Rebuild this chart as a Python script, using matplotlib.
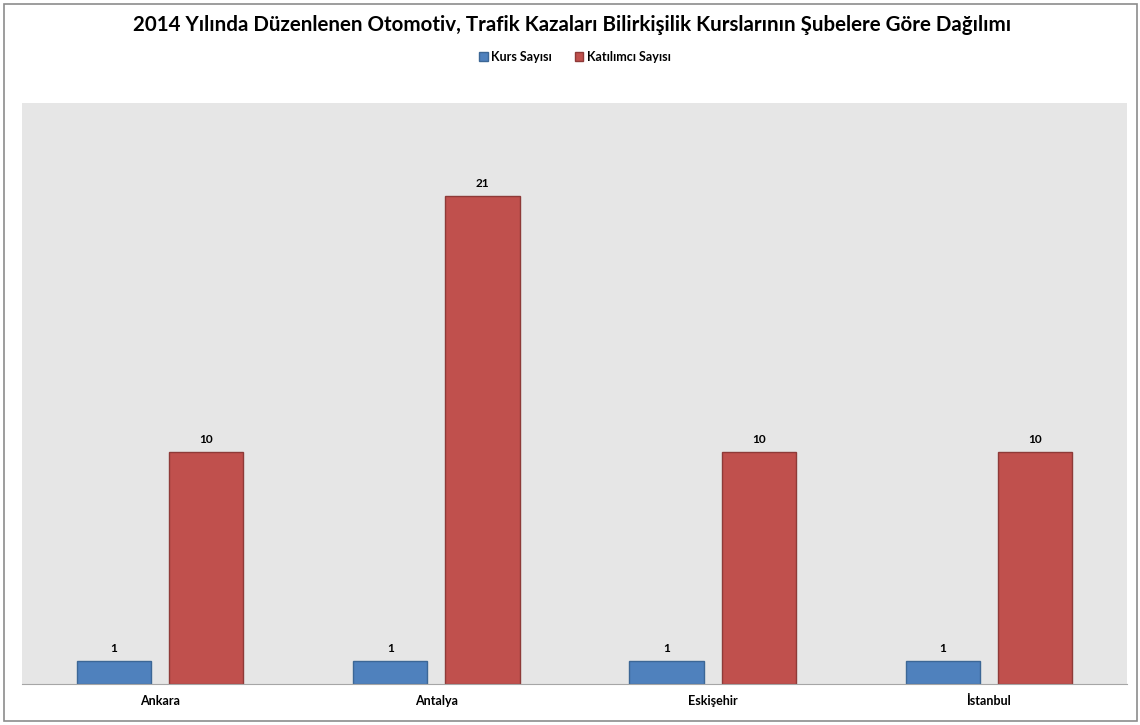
import numpy as np
import matplotlib.pyplot as plt
from matplotlib.patches import Rectangle

# veriler
subeler = ["Ankara", "Antalya", "Eskişehir", "İstanbul"]
kurs_sayisi = [1, 1, 1, 1]
katilimci_sayisi = [10, 21, 10, 10]

baslik = "2014 Yılında Düzenlenen Otomotiv, Trafik Kazaları Bilirkişilik Kurslarının Şubelere Göre Dağılımı"

plt.rcParams['font.family'] = ['Lato', 'DejaVu Sans']

fig = plt.figure(figsize=(11.4, 7.25), dpi=100)
W, H = 1140, 725

# dis cerceve
fig.patches.append(Rectangle((4 / W, 4 / H), 1133 / W, 717 / H, transform=fig.transFigure,
                             fill=False, edgecolor="#8c8c8c", linewidth=1.2))

ax = fig.add_axes([22 / W, (H - 684) / H, (1127 - 22) / W, (684 - 103) / H])
ax.set_facecolor("#e6e6e6")

x = np.arange(len(subeler))
w = 0.268
off = 0.167
b1 = ax.bar(x - off, kurs_sayisi, w, color="#4f81bd", edgecolor="#3c6796", linewidth=1, label="Kurs Sayısı")
b2 = ax.bar(x + off, katilimci_sayisi, w, color="#c0504d", edgecolor="#8e3a38", linewidth=1, label="Katılımcı Sayısı")

for bars in (b1, b2):
    for b in bars:
        ax.annotate(str(int(b.get_height())), (b.get_x() + b.get_width() / 2, b.get_height()),
                    xytext=(0, 5), textcoords="offset points", ha="center", va="bottom",
                    fontsize=8.5, fontweight="bold")

ax.set_xlim(-0.5, len(subeler) - 0.5)
ax.set_ylim(0, 25)
ax.set_yticks([])
ax.set_xticks(x)
ax.set_xticklabels(subeler, fontsize=9, fontweight="bold")
ax.tick_params(axis="x", length=0, pad=8)
for s in ["top", "right", "left"]:
    ax.spines[s].set_visible(False)
ax.spines["bottom"].set_color("#a6a6a6")

fig.text(572 / W, 1 - 25 / H, baslik, ha="center", va="center", fontsize=14.8, fontweight="bold")

leg = fig.legend(handles=[b1, b2], loc="center", bbox_to_anchor=(575 / W, 1 - 57 / H), ncol=2,
                 frameon=False, prop={"size": 9, "weight": "bold"}, handlelength=0.7, handleheight=0.7,
                 handletextpad=0.3, columnspacing=1.8)

fig.savefig("out.png", dpi=100)
